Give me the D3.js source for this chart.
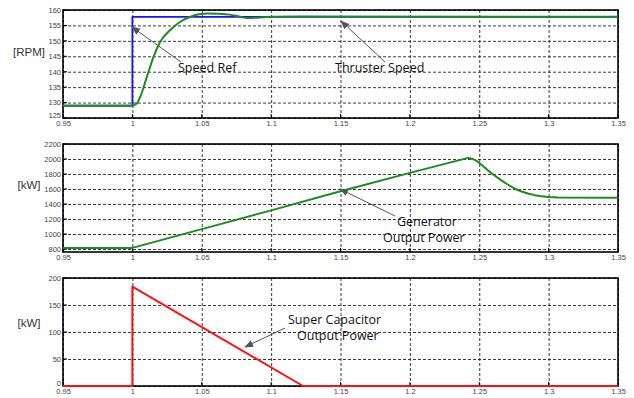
<!DOCTYPE html>
<html>
<head>
<meta charset="utf-8">
<script src="https://cdn.jsdelivr.net/npm/d3@7"></script>
<style>
  body { margin: 0; background: #fff; }
  svg { display: block; }
  .tick text { font-family: "Liberation Sans", Arial, sans-serif; font-size: 7.5px; fill: #444; }
  .note { font-family: "Open Sans", sans-serif; font-size: 12.5px; fill: #111; }
  .ylab { font-family: "Liberation Sans", Arial, sans-serif; font-size: 11.5px; fill: #333; }
</style>
</head>
<body>
<div id="chart"></div>
<script>
// Layout
const width = 634;
const height = 398;
const left = 63, right = 618;
const panelH = 108;
const panelTops = [10, 144, 278];

// Data
const timeTicks = [0.95, 1, 1.05, 1.1, 1.15, 1.2, 1.25, 1.3, 1.35];

const speedTicks = [125, 130, 135, 140, 145, 150, 155, 160];
const speedRefT = [0.95, 1, 1, 1.35];
const speedRefV = [129, 129, 157.8, 157.8];
const thrusterT = [0.95, 1, 1.003, 1.0057, 1.0105, 1.0153, 1.0201, 1.0273, 1.0345, 1.0418, 1.048, 1.054, 1.062, 1.07, 1.077, 1.083, 1.09, 1.1, 1.12, 1.35];
const thrusterV = [129, 129, 129.6, 131.9, 138.4, 144.9, 149.7, 153.5, 156.2, 157.8, 158.6, 158.9, 158.8, 158.5, 157.9, 157.4, 157.5, 157.8, 157.9, 157.8];

const genTicks = [800, 1000, 1200, 1400, 1600, 1800, 2000, 2200];
const genT = [0.95, 1, 1.05, 1.1, 1.15, 1.2, 1.242, 1.2455, 1.2489, 1.2525, 1.256, 1.261, 1.2657, 1.2705, 1.2753, 1.28, 1.285, 1.29, 1.2946, 1.30, 1.3067, 1.35];
const genV = [815, 815, 1065, 1315, 1570, 1815, 2015, 2000, 1964, 1910, 1852, 1780, 1718, 1660, 1607, 1570, 1540, 1518, 1504, 1494, 1486, 1485];

const capTicks = [0, 50, 100, 150, 200];
const capT = [0.95, 1, 1, 1.123, 1.35];
const capV = [0, 0, 184, 0, 0];

const svg = d3.select("#chart").append("svg")
  .attr("width", width)
  .attr("height", height);

svg.append("defs").append("marker")
  .attr("id", "head")
  .attr("viewBox", "0 0 10 10")
  .attr("refX", 9).attr("refY", 5)
  .attr("markerWidth", 9).attr("markerHeight", 9)
  .attr("markerUnits", "userSpaceOnUse")
  .attr("orient", "auto")
  .append("path")
    .attr("d", "M0,1 L10,5 L0,9 Z")
    .attr("fill", "#555");

const x = d3.scaleLinear().domain([0.95, 1.35]).range([left, right]);

function drawPanel(top, domain, yTicks, series, ylabel, ylabelY) {
  const y = d3.scaleLinear().domain(domain).range([top + panelH, top]);
  const g = svg.append("g");

  // grid + labels via axes
  const xa = g.append("g")
    .attr("transform", `translate(0,${top + panelH})`)
    .call(d3.axisBottom(x).tickValues(timeTicks).tickSize(-panelH).tickPadding(3)
      .tickFormat(d => +d.toFixed(2)));
  const ya = g.append("g")
    .attr("transform", `translate(${left},0)`)
    .call(d3.axisLeft(y).tickValues(yTicks).tickSize(-(right - left)).tickPadding(2)
      .tickFormat(d3.format("d")));

  [xa, ya].forEach(a => {
    a.select(".domain").remove();
    a.selectAll(".tick line")
      .attr("stroke", "#222")
      .attr("stroke-width", 0.9)
      .attr("stroke-dasharray", "3,2");
  });
  // lowest y label sits on the bottom edge, lift it clear of the x labels
  ya.selectAll(".tick text").filter(d => d === domain[0])
    .attr("dy", "-0.05em");

  // inner tick marks
  g.append("g").selectAll("line").data(yTicks).join("line")
    .attr("x1", left).attr("x2", left + 4)
    .attr("y1", d => y(d)).attr("y2", d => y(d))
    .attr("stroke", "#000");
  g.append("g").selectAll("line").data(timeTicks).join("line")
    .attr("x1", d => x(d)).attr("x2", d => x(d))
    .attr("y1", top + panelH).attr("y2", top + panelH - 4)
    .attr("stroke", "#000");

  // frame
  g.append("rect")
    .attr("x", left).attr("y", top)
    .attr("width", right - left).attr("height", panelH)
    .attr("fill", "none")
    .attr("stroke", "#000")
    .attr("stroke-width", 1.6);

  series.forEach(s => {
    const pts = s.t.map((t, i) => [t, s.v[i]]);
    g.append("path")
      .datum(pts)
      .attr("fill", "none")
      .attr("stroke", s.color)
      .attr("stroke-width", s.w)
      .attr("stroke-linejoin", "round")
      .attr("d", d3.line().x(d => x(d[0])).y(d => y(d[1])).curve(s.curve)(pts));
  });

  svg.append("text")
    .attr("class", "ylab")
    .attr("x", 29).attr("y", ylabelY)
    .attr("text-anchor", "middle")
    .attr("dominant-baseline", "middle")
    .text(ylabel);
}

drawPanel(panelTops[0], [125, 160], speedTicks, [
  {t: speedRefT, v: speedRefV, color: "#1515ff", w: 1.8, curve: d3.curveLinear},
  {t: thrusterT, v: thrusterV, color: "#1e8a1e", w: 2, curve: d3.curveMonotoneX}
], "[RPM]", 53);

drawPanel(panelTops[1], [760, 2200], genTicks, [
  {t: genT, v: genV, color: "#1e8a1e", w: 2, curve: d3.curveLinear}
], "[kW]", 186);

drawPanel(panelTops[2], [0, 200], capTicks, [
  {t: capT, v: capV, color: "#ff1010", w: 2, curve: d3.curveLinear}
], "[kW]", 324);

// annotations
const notes = [
  {lines: ["Speed Ref"], x: 178, y: 72, from: [181, 62], to: [132, 27]},
  {lines: ["Thruster Speed"], x: 335, y: 72, from: [385, 62], to: [341, 21]},
  {lines: ["Generator", "Output Power"], x: [397, 383], y: 226, from: [395, 216], to: [340, 189]},
  {lines: ["Super Capacitor", "Output Power"], x: [288, 297], y: 324, from: [285, 328], to: [245, 347]}
];

notes.forEach(n => {
  svg.append("line")
    .attr("x1", n.from[0]).attr("y1", n.from[1])
    .attr("x2", n.to[0]).attr("y2", n.to[1])
    .attr("stroke", "#555")
    .attr("stroke-width", 1)
    .attr("marker-end", "url(#head)");
  n.lines.forEach((txt, i) => {
    svg.append("text")
      .attr("class", "note")
      .attr("x", Array.isArray(n.x) ? n.x[i] : n.x)
      .attr("y", n.y + i * 16)
      .text(txt);
  });
});
</script>
</body>
</html>
